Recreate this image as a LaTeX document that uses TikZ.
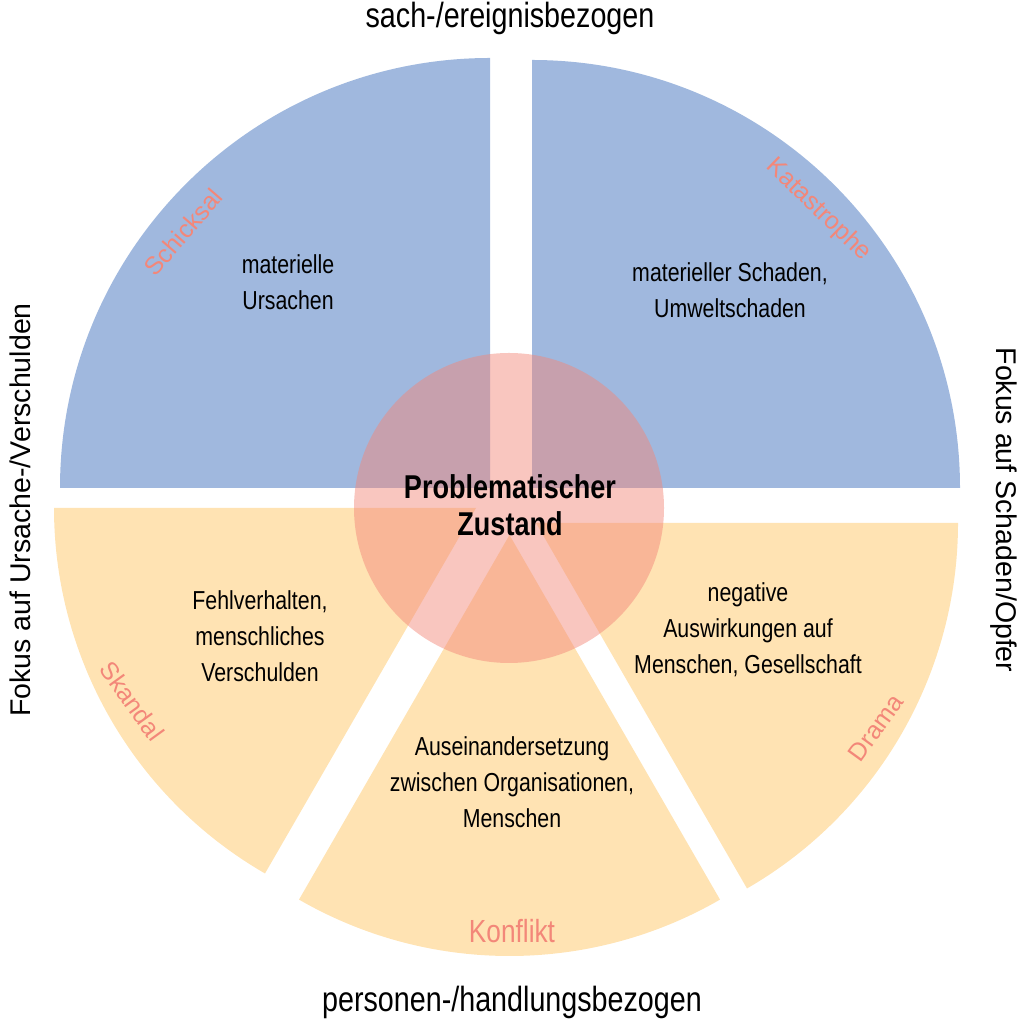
\documentclass[tikz,border=0pt]{standalone}
\usepackage{fontspec}
\setmainfont{Liberation Sans}
\newfontfamily\cond{Liberation Sans}[FakeStretch=0.82]
\usetikzlibrary{positioning}
\definecolor{sachblue}{RGB}{160,184,222}
\definecolor{personpeach}{RGB}{255,227,179}
\definecolor{salmon}{RGB}{243,135,121}

\begin{document}
\begin{tikzpicture}[x=1pt,y=1pt]
          \tikzstyle{every node}=[align=center,inner sep=0pt]
          \tikzstyle{inner}=[font=\cond\fontsize{26}{36}\selectfont]
          \tikzstyle{kind}=[text=salmon,font=\fontsize{25}{30}\selectfont]
          \tikzstyle{axis}=[font=\cond\fontsize{35}{40}\selectfont]
          \tikzstyle{side}=[font=\fontsize{28.5}{34}\selectfont]
          \useasboundingbox (0,0) rectangle (1024,1024);

          % sectors
          \fill[sachblue]    (490,536)   -- ++(90:430)  arc (90:180:430)  -- cycle;
          \fill[sachblue]    (532,536)   -- ++(0:428)   arc (0:90:428)    -- cycle;
          \fill[personpeach] (476,516)   -- ++(180:422) arc (180:240:422) -- cycle;
          \fill[personpeach] (509.5,489) -- ++(240:421) arc (240:300:421) -- cycle;
          \fill[personpeach] (536,501)   -- ++(300:422) arc (300:360:422) -- cycle;
          \fill[salmon,fill opacity=0.48] (509,516) circle (155);

          \node[inner] (U) at (288,742) {materielle\\Ursachen};
          \node[inner] (S) at (730,734) {materieller Schaden,\\Umweltschaden};
          \node[inner] (V) at (260,388) {Fehlverhalten,\\menschliches\\Verschulden};
          \node[inner] (N) at (748,394) {negative\\Auswirkungen auf\\Menschen, Gesellschaft};
          \node[inner] (O) at (512,242) {Auseinandersetzung\\zwischen Organisationen,\\Menschen};
          \node[font=\cond\bfseries\fontsize{33}{37}\selectfont] (P) at (510,519) {Problematischer\\Zustand};

          \node[kind,rotate=49]  (Sch) at (183,792) {Schicksal};
          \node[kind,rotate=-44] (Kat) at (818,814) {Katastrophe};
          \node[kind,rotate=-54] (Ska) at (132,323) {Skandal};
          \node[kind,rotate=54]  (Dra) at (876,296) {Drama};
          \node[text=salmon,font=\cond\fontsize{32}{36}\selectfont] (Kon) at (512,93) {Konflikt};

          \node[axis] (top) at (510,1006) {sach-/ereignisbezogen};
          \node[axis] (bot) at (512,22)   {personen-/handlungsbezogen};
          \node[side,rotate=90]  (left)  at (20,514)   {Fokus auf Ursache-/Verschulden};
          \node[side,rotate=-90] (right) at (1004,514) {Fokus auf Schaden/Opfer};
        \end{tikzpicture}
\end{document}
